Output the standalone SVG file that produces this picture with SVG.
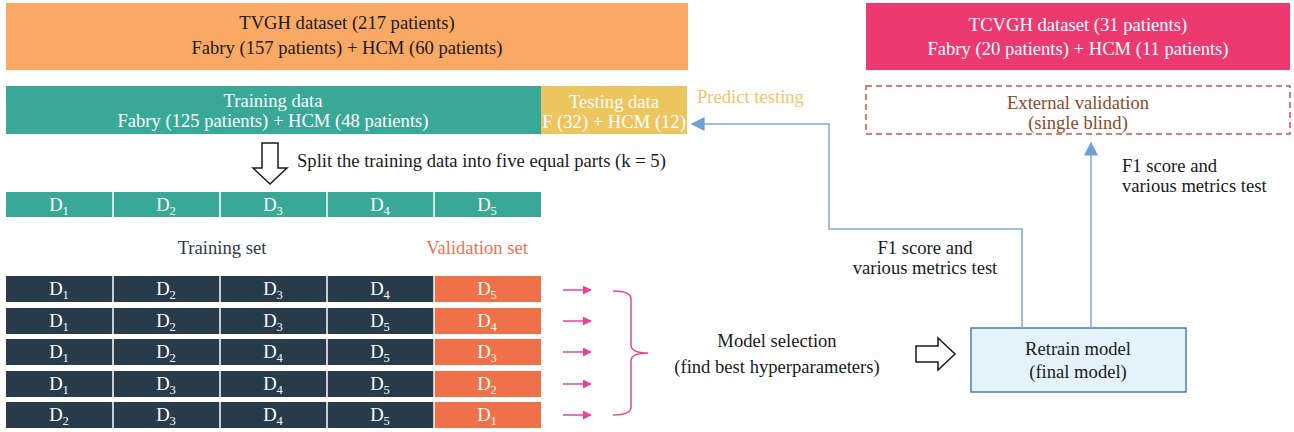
<svg xmlns="http://www.w3.org/2000/svg" width="1294" height="432" viewBox="0 0 1294 432">
<style>
text{font-family:"Liberation Serif","DejaVu Serif",serif;font-size:18.6px;}
.c{text-anchor:middle}
.w{fill:#ffffff}
.k{fill:#1a1a1a}
.sub{font-size:12.5px}
.teal{fill:#3AA896}
.dark{fill:#283B4B}
.org{fill:#EE7149}
.sep{stroke:#ffffff;stroke-width:1.5}
.blue{fill:none;stroke:#7DA8D8;stroke-width:1.5}
.pk{stroke:#E8449A;stroke-width:1.5;fill:none}
.hollow{fill:#ffffff;stroke:#1a1a1a;stroke-width:1.5}
</style>
<defs>
<marker id="bh" viewBox="0 0 10 10" refX="9" refY="5" markerWidth="14" markerHeight="14" markerUnits="userSpaceOnUse" orient="auto">
<path d="M0,0 L10,5 L0,10 z" fill="#6E9FD6"/>
</marker>
<marker id="ph" viewBox="0 0 10 10" refX="9" refY="5" markerWidth="9" markerHeight="9" markerUnits="userSpaceOnUse" orient="auto">
<path d="M0,0 L10,5 L0,10 z" fill="#E8449A"/>
</marker>
</defs>

<g id="tvgh">
<rect x="6" y="3" width="682" height="67" fill="#F9A963"/>
<text class="c k" x="347" y="29">TVGH dataset (217 patients)</text>
<text class="c k" x="347" y="54">Fabry (157 patients) + HCM (60 patients)</text>
</g>

<g id="tcvgh">
<rect x="866" y="3" width="424" height="67" fill="#EC3A70"/>
<text class="c w" x="1078" y="31">TCVGH dataset (31 patients)</text>
<text class="c w" x="1078" y="55">Fabry (20 patients) + HCM (11 patients)</text>
</g>

<g id="training">
<rect x="6" y="86" width="535" height="48" class="teal"/>
<text class="c w" x="273" y="107">Training data</text>
<text class="c w" x="273" y="127">Fabry (125 patients) + HCM (48 patients)</text>
</g>

<g id="testing">
<rect x="541" y="86" width="146" height="48" fill="#EDC55F"/>
<text class="c w" x="614" y="108">Testing data</text>
<text class="c w" x="614" y="128">F (32) + HCM (12)</text>
</g>

<g id="predict-label">
<text x="697" y="103" fill="#F0C66A">Predict testing</text>
</g>

<g id="external">
<rect x="866" y="86" width="424" height="48" fill="none" stroke="#D0524A" stroke-width="1.5" stroke-dasharray="6,4"/>
<text class="c" x="1078" y="109" fill="#8C4A2C">External validation</text>
<text class="c" x="1078" y="129" fill="#8C4A2C">(single blind)</text>
</g>

<g id="split">
<path class="hollow" d="M262,143 H278 V168 H287 L270,184 L253,168 H262 Z"/>
<text class="k" x="297" y="167">Split the training data into five equal parts (k = 5)</text>
</g>

<g id="folds">
<rect x="6" y="192" width="535" height="25" class="teal"/>
<line class="sep" x1="113" y1="192" x2="113" y2="217"/>
<line class="sep" x1="220" y1="192" x2="220" y2="217"/>
<line class="sep" x1="327" y1="192" x2="327" y2="217"/>
<line class="sep" x1="434" y1="192" x2="434" y2="217"/>
<text class="c w" x="59" y="211">D<tspan class="sub" dy="4">1</tspan></text>
<text class="c w" x="166" y="211">D<tspan class="sub" dy="4">2</tspan></text>
<text class="c w" x="273" y="211">D<tspan class="sub" dy="4">3</tspan></text>
<text class="c w" x="380" y="211">D<tspan class="sub" dy="4">4</tspan></text>
<text class="c w" x="487" y="211">D<tspan class="sub" dy="4">5</tspan></text>
</g>

<g id="set-labels">
<text class="c" x="222" y="254" fill="#2B3A4A">Training set</text>
<text class="c" x="477" y="254" fill="#EE7350">Validation set</text>
</g>

<g id="grid">
<g id="row1">
<rect x="6" y="276" width="428" height="26" class="dark"/>
<rect x="434" y="276" width="107" height="26" class="org"/>
<line class="sep" x1="113" y1="276" x2="113" y2="302"/><line class="sep" x1="220" y1="276" x2="220" y2="302"/><line class="sep" x1="327" y1="276" x2="327" y2="302"/><line class="sep" x1="434" y1="276" x2="434" y2="302"/>
<text class="c w" x="59" y="295">D<tspan class="sub" dy="4">1</tspan></text>
<text class="c w" x="166" y="295">D<tspan class="sub" dy="4">2</tspan></text>
<text class="c w" x="273" y="295">D<tspan class="sub" dy="4">3</tspan></text>
<text class="c w" x="380" y="295">D<tspan class="sub" dy="4">4</tspan></text>
<text class="c w" x="487" y="295">D<tspan class="sub" dy="4">5</tspan></text>
</g>
<g id="row2">
<rect x="6" y="308" width="428" height="26" class="dark"/>
<rect x="434" y="308" width="107" height="26" class="org"/>
<line class="sep" x1="113" y1="308" x2="113" y2="334"/><line class="sep" x1="220" y1="308" x2="220" y2="334"/><line class="sep" x1="327" y1="308" x2="327" y2="334"/><line class="sep" x1="434" y1="308" x2="434" y2="334"/>
<text class="c w" x="59" y="327">D<tspan class="sub" dy="4">1</tspan></text>
<text class="c w" x="166" y="327">D<tspan class="sub" dy="4">2</tspan></text>
<text class="c w" x="273" y="327">D<tspan class="sub" dy="4">3</tspan></text>
<text class="c w" x="380" y="327">D<tspan class="sub" dy="4">5</tspan></text>
<text class="c w" x="487" y="327">D<tspan class="sub" dy="4">4</tspan></text>
</g>
<g id="row3">
<rect x="6" y="339" width="428" height="26" class="dark"/>
<rect x="434" y="339" width="107" height="26" class="org"/>
<line class="sep" x1="113" y1="339" x2="113" y2="365"/><line class="sep" x1="220" y1="339" x2="220" y2="365"/><line class="sep" x1="327" y1="339" x2="327" y2="365"/><line class="sep" x1="434" y1="339" x2="434" y2="365"/>
<text class="c w" x="59" y="358">D<tspan class="sub" dy="4">1</tspan></text>
<text class="c w" x="166" y="358">D<tspan class="sub" dy="4">2</tspan></text>
<text class="c w" x="273" y="358">D<tspan class="sub" dy="4">4</tspan></text>
<text class="c w" x="380" y="358">D<tspan class="sub" dy="4">5</tspan></text>
<text class="c w" x="487" y="358">D<tspan class="sub" dy="4">3</tspan></text>
</g>
<g id="row4">
<rect x="6" y="371" width="428" height="26" class="dark"/>
<rect x="434" y="371" width="107" height="26" class="org"/>
<line class="sep" x1="113" y1="371" x2="113" y2="397"/><line class="sep" x1="220" y1="371" x2="220" y2="397"/><line class="sep" x1="327" y1="371" x2="327" y2="397"/><line class="sep" x1="434" y1="371" x2="434" y2="397"/>
<text class="c w" x="59" y="390">D<tspan class="sub" dy="4">1</tspan></text>
<text class="c w" x="166" y="390">D<tspan class="sub" dy="4">3</tspan></text>
<text class="c w" x="273" y="390">D<tspan class="sub" dy="4">4</tspan></text>
<text class="c w" x="380" y="390">D<tspan class="sub" dy="4">5</tspan></text>
<text class="c w" x="487" y="390">D<tspan class="sub" dy="4">2</tspan></text>
</g>
<g id="row5">
<rect x="6" y="402" width="428" height="26" class="dark"/>
<rect x="434" y="402" width="107" height="26" class="org"/>
<line class="sep" x1="113" y1="402" x2="113" y2="428"/><line class="sep" x1="220" y1="402" x2="220" y2="428"/><line class="sep" x1="327" y1="402" x2="327" y2="428"/><line class="sep" x1="434" y1="402" x2="434" y2="428"/>
<text class="c w" x="59" y="421">D<tspan class="sub" dy="4">2</tspan></text>
<text class="c w" x="166" y="421">D<tspan class="sub" dy="4">3</tspan></text>
<text class="c w" x="273" y="421">D<tspan class="sub" dy="4">4</tspan></text>
<text class="c w" x="380" y="421">D<tspan class="sub" dy="4">5</tspan></text>
<text class="c w" x="487" y="421">D<tspan class="sub" dy="4">1</tspan></text>
</g>
</g>

<g id="model-selection">
<text class="c k" x="777" y="347">Model selection</text>
<text class="c k" x="777" y="373">(find best hyperparameters)</text>
<path class="hollow" d="M916,346 H938 V338 L955,354 L938,370 V362 H916 Z"/>
</g>

<g id="retrain">
<rect x="971" y="328" width="215" height="64" fill="#E3F2FB" stroke="#4A7EB5" stroke-width="1.5"/>
<text class="c k" x="1078" y="355">Retrain model</text>
<text class="c k" x="1078" y="378">(final model)</text>
</g>

<g id="metric-labels">
<text class="k" x="1122" y="172">F1 score and</text>
<text class="k" x="1122" y="192">various metrics test</text>
<text class="c k" x="925" y="254">F1 score and</text>
<text class="c k" x="925" y="274">various metrics test</text>
</g>

<g id="connectors">
<path class="blue" d="M1022,328 V229 H829 V124 H692" marker-end="url(#bh)"/>
<path class="blue" d="M1091,328 V143" marker-end="url(#bh)"/>
<line class="pk" x1="563" y1="290" x2="591" y2="290" marker-end="url(#ph)"/>
<line class="pk" x1="563" y1="321" x2="591" y2="321" marker-end="url(#ph)"/>
<line class="pk" x1="563" y1="352" x2="591" y2="352" marker-end="url(#ph)"/>
<line class="pk" x1="563" y1="384" x2="591" y2="384" marker-end="url(#ph)"/>
<line class="pk" x1="563" y1="415" x2="591" y2="415" marker-end="url(#ph)"/>
<path class="pk" d="M613,291 Q631,291 631,299 V345 Q631,353 648,353 Q631,353 631,361 V407 Q631,415 613,415"/>
</g>
</svg>
